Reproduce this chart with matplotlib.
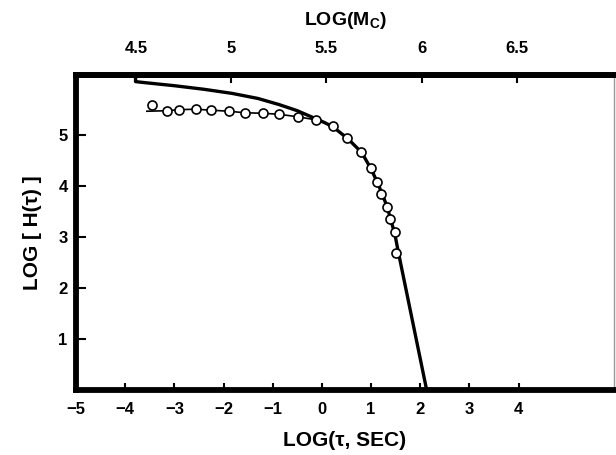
import matplotlib
matplotlib.use("Agg")
import matplotlib.pyplot as plt

plt.rcParams['font.family'] = ['Liberation Sans', 'DejaVu Sans']
plt.rcParams['font.weight'] = 'bold'
plt.rcParams['mathtext.fontset'] = 'custom'
plt.rcParams['mathtext.rm'] = 'Liberation Sans:bold'
plt.rcParams['mathtext.it'] = 'Liberation Sans:bold'

# measured points (open circles)
tau_pts = [-3.45, -3.15, -2.91, -2.57, -2.25, -1.89, -1.57, -1.19, -0.87, -0.48,
           -0.12, 0.22, 0.51, 0.80, 0.99, 1.12, 1.21, 1.32, 1.38, 1.48, 1.50]
h_pts = [5.58, 5.47, 5.49, 5.50, 5.48, 5.46, 5.43, 5.42, 5.40, 5.35,
         5.29, 5.17, 4.93, 4.67, 4.34, 4.07, 3.84, 3.59, 3.34, 3.09, 2.69]

# thin line joining the plateau points
tau_thin = [-3.56, -3.15, -2.91, -2.57, -2.25, -1.89, -1.57, -1.19, -0.87, -0.48, -0.12, 0.22]
h_thin = [5.46, 5.47, 5.49, 5.50, 5.48, 5.46, 5.43, 5.42, 5.40, 5.35, 5.29, 5.17]

# heavy calculated curve
tau_calc = [-3.79, -3.79, -3.6, -3.0, -2.4, -1.83, -1.3, -0.87, -0.5, -0.19, 0.05, 0.23,
            0.53, 0.81, 1.00, 1.13, 1.23, 1.33, 1.40, 1.48, 1.55, 2.13]
h_calc = [6.17, 6.04, 6.02, 5.96, 5.89, 5.81, 5.71, 5.59, 5.47, 5.34, 5.24, 5.15,
          4.92, 4.65, 4.33, 4.06, 3.83, 3.58, 3.33, 3.07, 2.72, 0.0]

bottom_ticks = [-5, -4, -3, -2, -1, 0, 1, 2, 3, 4]
left_ticks = [1, 2, 3, 4, 5]
top_ticks = [4.5, 5, 5.5, 6, 6.5]
top_labels = ['4.5', '5', '5.5', '6', '6.5']


def tau_to_m(t):
    return 5.476 + 0.2582 * t


def m_to_tau(m):
    return (m - 5.476) / 0.2582


fig = plt.figure(figsize=(6.16, 4.55), dpi=100)
ax = fig.add_axes([0.1234, 0.1429, 0.8734, 0.6923])

ax.plot(tau_calc, h_calc, color='black', lw=2.4, solid_joinstyle='round', zorder=3)
ax.plot(tau_thin, h_thin, color='black', lw=1.2, zorder=2)
ax.plot(tau_pts, h_pts, linestyle='none', marker='o', markersize=6.5,
        markerfacecolor='white', markeredgecolor='black', markeredgewidth=1.2, zorder=4)

ax.set_xlim(-5, 5.94)
ax.set_ylim(0, 6.17)

ax.set_xticks(bottom_ticks)
ax.set_yticks(left_ticks)
ax.tick_params(axis='x', direction='in', length=5, width=1.5, labelsize=12, pad=9)
ax.tick_params(axis='y', direction='in', length=7, width=1.5, labelsize=12, pad=6)

for side in ['left', 'bottom', 'top']:
    ax.spines[side].set_linewidth(4.2)
ax.spines['right'].set_linewidth(1.0)
ax.spines['right'].set_color('#999999')

sec = ax.secondary_xaxis('top', functions=(tau_to_m, m_to_tau))
sec.set_xticks(top_ticks, top_labels)
sec.tick_params(direction='in', length=6, width=1.5, labelsize=12, pad=14)
sec.spines['top'].set_linewidth(4.2)
sec.set_xlabel('LOG(M$_C$)', fontsize=14, fontweight='bold', labelpad=11)

ax.set_xlabel('LOG(τ, SEC)', fontsize=15, fontweight='bold', labelpad=10)
ax.set_ylabel('LOG [ H(τ) ]', fontsize=15, fontweight='bold', labelpad=12)

fig.savefig('out.png', dpi=100)
